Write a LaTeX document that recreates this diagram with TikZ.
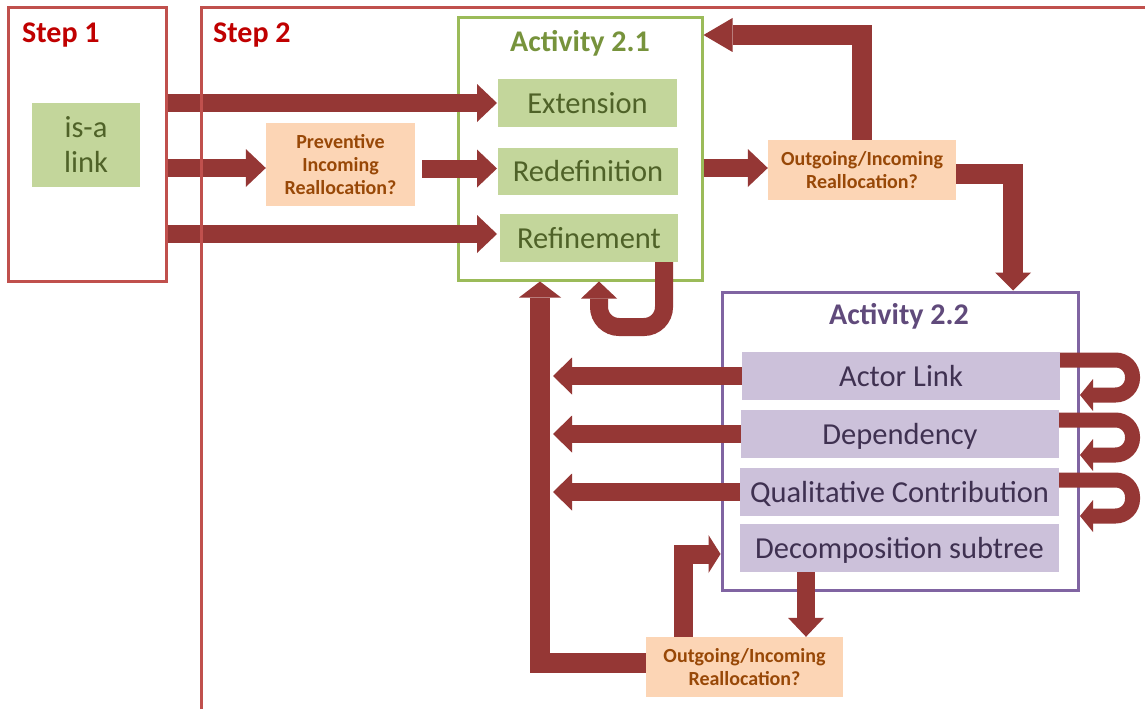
\documentclass[tikz,border=0pt]{standalone}
\usepackage{fontspec}
\setmainfont{Carlito}
\usetikzlibrary{arrows.meta,calc}
\definecolor{stepred}{HTML}{C0504D}
\definecolor{steptext}{HTML}{C00000}
\definecolor{arrred}{HTML}{953735}
\definecolor{gfill}{HTML}{C3D69B}
\definecolor{gtext}{HTML}{4F6228}
\definecolor{gframe}{HTML}{9BBB59}
\definecolor{gtitle}{HTML}{77933C}
\definecolor{ofill}{HTML}{FCD5B5}
\definecolor{otext}{HTML}{984807}
\definecolor{pframe}{HTML}{8064A2}
\definecolor{ptitle}{HTML}{604A7B}
\definecolor{pfill}{HTML}{CCC1DA}
\definecolor{ptext}{HTML}{3F3151}
\tikzset{
  stepframe/.style={draw=stepred, line width=3pt, inner sep=0pt},
  steplabel/.style={text=steptext, font=\bfseries\fontsize{30}{36}\selectfont, inner sep=0pt},
  gbox/.style={fill=gfill, text=gtext, font=\fontsize{30.5}{35}\selectfont, inner sep=0pt, align=center},
  gitem/.style={gbox, text height=20.5pt, text depth=0pt},
  actA/.style={draw=gframe, line width=3pt, inner sep=0pt},
  titleA/.style={text=gtitle, font=\bfseries\fontsize{30}{36}\selectfont, inner sep=0pt},
  obox/.style={fill=ofill, text=otext, font=\bfseries\fontsize{20}{23}\selectfont, inner sep=0pt, align=center},
  actB/.style={draw=pframe, line width=3pt, inner sep=0pt},
  titleB/.style={text=ptitle, font=\bfseries\fontsize{30}{36}\selectfont, inner sep=0pt},
  pitem/.style={fill=pfill, text=ptext, font=\fontsize{30.5}{35}\selectfont, inner sep=0pt, text height=20.5pt, text depth=0pt},
  barrow/.style={draw=arrred, line width=18pt, -{Triangle[width=38pt,length=20pt,line width=0pt]}},
  lloop/.style={draw=arrred, line width=15pt, rounded corners=17pt, -{Triangle[width=32pt,length=13pt,line width=0pt]}}
}
\begin{document}
\begin{tikzpicture}[x=1pt,y=-1pt]
\useasboundingbox (0,0) rectangle (1145,709);
\fill[white] (0,0) rectangle (1145,709);

% helper coordinates
\coordinate (y35) at (0,35);
\coordinate (y168) at (0,168);
\coordinate (y168b) at (0,168.5);
\coordinate (y174) at (0,174);
\coordinate (y234) at (0,234);
\coordinate (y327) at (0,327);
\coordinate (y663) at (0,663);
\coordinate (y554) at (0,554);
\coordinate (vx) at (540,0);
\coordinate (dx) at (806,0);
\coordinate (x422) at (422,0);
\coordinate (x497) at (497,0);
\coordinate (x1013) at (1013,0);
\coordinate (x664) at (664,0);
\coordinate (x599) at (599,0);
\coordinate (x553) at (553,0);
\coordinate (x683) at (683,0);
\coordinate (x1132) at (1132.5,0);
\coordinate (x1080) at (1080,0);
\coordinate (s2a) at (201,709);
\coordinate (s2b) at (201,8);
\coordinate (s2c) at (1145,8);

% Step 1
\node[stepframe, minimum width=158pt, minimum height=273pt] (s1) at (87,144.5) {};
\node[steplabel, anchor=base west] (s1t) at (22,43) {Step 1};
\node[steplabel, anchor=base west] (s2t) at (213,43) {Step 2};
\node[gbox, minimum width=108pt, minimum height=84pt] (isa) at (86,145) {is-a\\link};

% Activity 2.1
\node[actA, minimum width=244pt, minimum height=262pt] (a21) at (580,149) {};
\node[titleA, anchor=base] (a21t) at (580,52) {Activity 2.1};
\node[gitem, minimum width=179pt, minimum height=48pt] (ext) at (587.5,103) {Extension};
\node[gitem, minimum width=180pt, minimum height=47pt] (redef) at (588,171.5) {Redefinition};
\node[gitem, minimum width=178pt, minimum height=48pt] (refin) at (589,238) {Refinement};

% reallocation boxes
\node[obox, minimum width=149pt, minimum height=83pt] (prev) at (340.5,164.5) {Preventive\\Incoming\\Reallocation?};
\node[obox, minimum width=188pt, minimum height=60pt] (out1) at (862,170) {Outgoing/Incoming\\Reallocation?};
\node[obox, minimum width=197pt, minimum height=60pt] (out2) at (744.5,667) {Outgoing/Incoming\\Reallocation?};

% Activity 2.2
\node[actB, minimum width=356pt, minimum height=298pt] (a22) at (900,441) {};
\node[titleB, anchor=base] (a22t) at (899,324) {Activity 2.2};
\node[pitem, minimum width=318pt, minimum height=48pt] (actor) at (901,376) {Actor Link};
\node[pitem, minimum width=318pt, minimum height=48pt] (dep) at (900,434) {Dependency};
\node[pitem, minimum width=319pt, minimum height=48pt] (qual) at (899.5,492) {Qualitative Contribution};
\node[pitem, minimum width=319pt, minimum height=48pt] (decomp) at (899.5,548) {Decomposition subtree};

% arrows from step 1
\draw[barrow] (s1.east |- ext.west) -- (x497 |- ext.west);
\draw[barrow] (s1.east |- y168) -- (prev.west |- y168);
\draw[barrow] (x422 |- y168b) -- (x497 |- y168b);
\draw[barrow] (s1.east |- y234) -- (x497 |- y234);

% activity 2.1 outputs
\draw[barrow] (a21.east |- y168) -- (out1.west |- y168);
\draw[barrow, line width=20pt, -{Triangle[width=34pt,length=29pt,line width=0pt]}] (out1.north) |- (a21.east |- y35);
\draw[barrow, line width=20pt, -{Triangle[width=36pt,length=18pt,line width=0pt]}] (out1.east |- y174) -| (x1013 |- a22.north);
\draw[barrow, rounded corners=20pt, -{Triangle[width=36pt,length=17pt,line width=0pt]}] (x664 |- refin.south) -- (x664 |- y327) -- (x599 |- y327) -- (x599 |- a21.south);

% activity 2.2 outputs to the left
\draw[barrow, -{Triangle[width=37pt,length=19pt,line width=0pt]}] (actor.west) -- (x553 |- actor.west);
\draw[barrow, -{Triangle[width=37pt,length=19pt,line width=0pt]}] (dep.west) -- (x553 |- dep.west);
\draw[barrow, -{Triangle[width=37pt,length=19pt,line width=0pt]}] (qual.west) -- (x553 |- qual.west);

% bottom reallocation
\draw[barrow, line width=20pt, -{Triangle[width=42pt,length=16pt,line width=0pt]}] (out2.west |- y663) -| (vx |- a21.south);
\draw[barrow, line width=19pt, -{Triangle[width=38pt,length=12pt,line width=0pt]}] (x683 |- out2.north) |- (a22.west |- y554);
\draw[barrow, -{Triangle[width=36pt,length=19pt,line width=0pt]}] (dx |- decomp.south) -- (dx |- out2.north);

% loops on the right
\coordinate (l1a) at (0,360); \coordinate (l1b) at (0,395);
\coordinate (l2a) at (0,420); \coordinate (l2b) at (0,455);
\coordinate (l3a) at (0,480); \coordinate (l3b) at (0,516);
\draw[lloop] (actor.east |- l1a) -- (x1132 |- l1a) -- (x1132 |- l1b) -- (x1080 |- l1b);
\draw[lloop] (dep.east |- l2a) -- (x1132 |- l2a) -- (x1132 |- l2b) -- (x1080 |- l2b);
\draw[lloop] (qual.east |- l3a) -- (x1132 |- l3a) -- (x1132 |- l3b) -- (x1080 |- l3b);

% Step 2 frame
\draw[stepframe] (s2a) -- (s2b) -- (s2c);
\end{tikzpicture}
\end{document}
